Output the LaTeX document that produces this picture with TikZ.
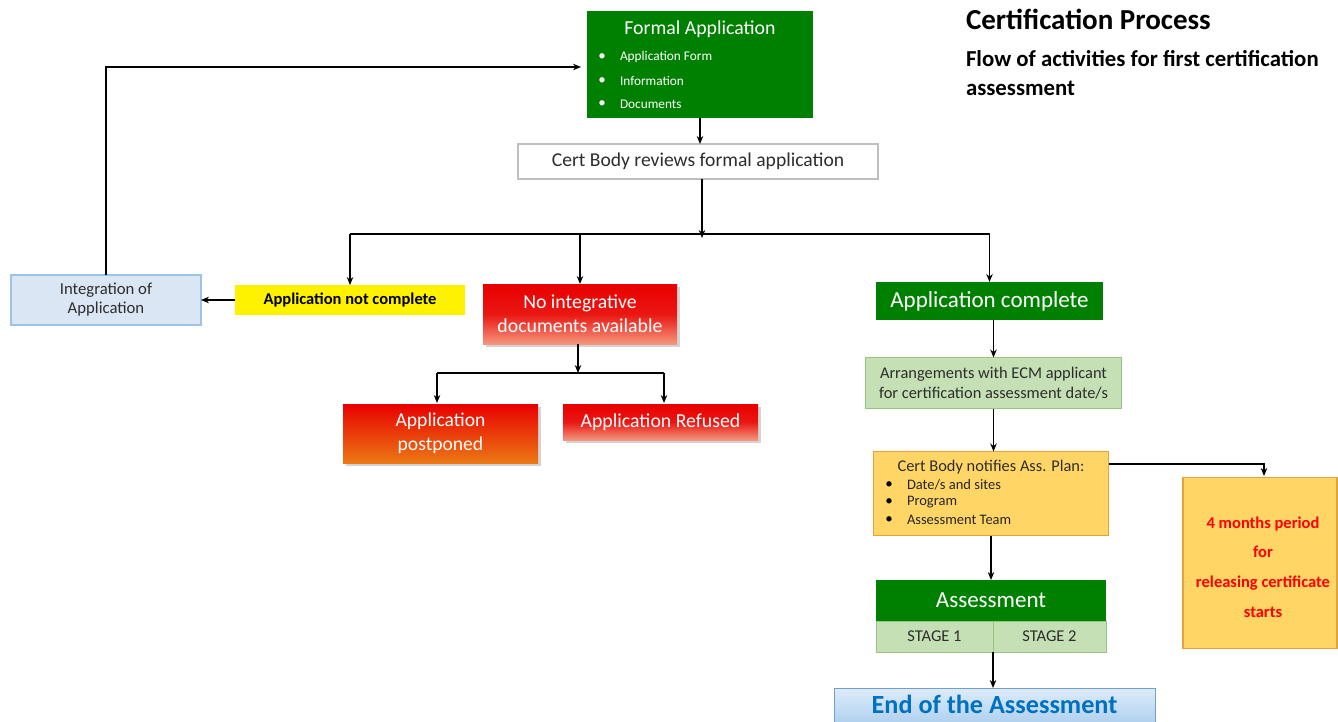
\documentclass[tikz,border=0pt]{standalone}
\usepackage{fontspec}
\setmainfont{Carlito}
\usetikzlibrary{arrows.meta,shadows}
\definecolor{dgreen}{RGB}{0,128,0}
\definecolor{lgreen}{RGB}{197,224,180}
\definecolor{lgreenb}{RGB}{150,196,130}
\definecolor{lblue}{RGB}{218,230,244}
\definecolor{lblueb}{RGB}{157,195,230}
\definecolor{gold}{RGB}{255,214,102}
\definecolor{goldb}{RGB}{230,160,60}
\definecolor{salmon}{RGB}{244,150,125}
\definecolor{bred}{RGB}{232,0,0}
\definecolor{amber}{RGB}{255,192,0}
\definecolor{dorange}{RGB}{236,120,20}
\definecolor{tgray}{RGB}{45,45,45}
\definecolor{endblue}{RGB}{0,112,192}
\definecolor{endtop}{RGB}{222,236,250}
\definecolor{endbot}{RGB}{160,200,235}
\definecolor{endb}{RGB}{110,160,210}
\begin{document}
\begin{tikzpicture}[x=1pt,y=-1pt,
  box/.style={inner sep=0pt, outer sep=0pt, align=center},
  conn/.style={line width=1.2pt, black},
  arr/.style={conn, -{Stealth[length=8pt,width=6.5pt]}},
  shad/.style={drop shadow={opacity=0.35, shadow xshift=3pt, shadow yshift=-3pt}},
  redbox/.style={box, shad, top color=bred, bottom color=salmon, middle color=bred!85!salmon, text=white},
]
\useasboundingbox (0,0) rectangle (1338,722);

% Formal application
\node[box, fill=dgreen, minimum width=226pt, minimum height=107pt] (formal) at (700,64.5) {};
\node[box, text=white, font=\fontsize{19.8}{22}\selectfont] (formalt) at (700,29) {Formal Application};
\foreach \yy/\tt/\nm in {57/{Application Form}/fa, 81/{Information}/fb, 104/{Documents}/fc}{
  \node[box, text=white, font=\fontsize{15}{15}\selectfont] (\nm b) at (602,\yy) {•};
  \node[box, anchor=west, text=white, font=\fontsize{13.3}{15}\selectfont] (\nm t) at (620,\yy) {\tt};
}

% Review
\node[box, fill=white, draw=black!25, line width=2.5pt, minimum width=360pt, minimum height=35pt,
      text=tgray, font=\fontsize{19.6}{22}\selectfont] (review) at (698,161.5) {Cert Body reviews formal application};

% Second row
\node[box, fill=lblue, draw=lblueb, line width=2.5pt, minimum width=190pt, minimum height=50pt,
      text=tgray, font=\fontsize{16.7}{19}\selectfont] (integ) at (106,300) {Integration of\\Application};
\node[box, fill=yellow, minimum width=230pt, minimum height=30pt,
      font=\bfseries\fontsize{16.5}{18}\selectfont] (notc) at (350,300) {Application not complete};
\node[redbox, minimum width=194pt, minimum height=60pt,
      font=\fontsize{19.8}{24}\selectfont] (noint) at (580,314) {No integrative\\documents available};
\node[box, fill=dgreen, minimum width=227pt, minimum height=38pt, text=white,
      font=\fontsize{23}{26}\selectfont] (compl) at (989.5,301) {Application complete};

% Third row
\node[box, shad, top color=bred, middle color=amber, bottom color=dorange, minimum width=195pt, minimum height=59pt,
      text=white, font=\fontsize{19.6}{24}\selectfont] (postp) at (440.5,433.5) {Application\\postponed};
\node[redbox, minimum width=195pt, minimum height=36pt,
      font=\fontsize{19.8}{22}\selectfont] (refus) at (660.5,422) {Application Refused};

% Right column
\node[box, fill=lgreen, draw=lgreenb, line width=1.2pt, minimum width=256pt, minimum height=51pt,
      text=tgray, font=\fontsize{16.4}{19.5}\selectfont] (arrg) at (993.5,383) {Arrangements with ECM applicant\\for certification assessment date/s};
\node[box, fill=gold, draw=goldb, line width=1.2pt, minimum width=235pt, minimum height=84pt] (notif) at (991,493.5) {};
\node[box, text=tgray, font=\fontsize{16.4}{18}\selectfont] (notift) at (991,467) {Cert Body notifies Ass. Plan:};
\foreach \yy/\tt/\nm in {485/{Date/s and sites}/na, 502/{Program}/nb, 520/{Assessment Team}/nc}{
  \node[box, text=black, font=\fontsize{15}{16}\selectfont] (\nm b) at (889,\yy) {•};
  \node[box, anchor=west, text=black!85, font=\fontsize{14.5}{16}\selectfont] (\nm t) at (907,\yy) {\tt};
}
\node[box, fill=gold, draw=goldb, line width=1.2pt, minimum width=154pt, minimum height=171pt] (months) at (1260,563) {};
\node[box, text=red, font=\bfseries\fontsize{16.5}{29.6}\selectfont] (monthst) at (1263,567) {4 months period\\for\\releasing certificate\\starts};

\node[box, fill=dgreen, minimum width=230pt, minimum height=41pt, text=white,
      font=\fontsize{23}{26}\selectfont] (assess) at (991,600.5) {Assessment};
\node[box, fill=lgreen, draw=lgreenb, line width=1pt, minimum width=117pt, minimum height=31pt,
      text=tgray, font=\fontsize{16.5}{18}\selectfont] (st1) at (934.5,636.5) {STAGE 1};
\node[box, fill=lgreen, draw=lgreenb, line width=1pt, minimum width=113pt, minimum height=31pt,
      text=tgray, font=\fontsize{16.5}{18}\selectfont] (st2) at (1049.5,636.5) {STAGE 2};

\node[box, top color=endtop, bottom color=endbot, draw=endb, line width=1pt, minimum width=321pt, minimum height=46pt] (endb) at (994.5,711) {};
\node[box, text=endblue, font=\bfseries\fontsize{26.2}{30}\selectfont] (endt) at (994.5,704) {End of the Assessment};

% Title
\node[box, anchor=west, font=\bfseries\fontsize{29}{32}\selectfont] (title) at (966,19) {Certification Process};
\node[box, anchor=north west, align=left, font=\bfseries\fontsize{22.8}{29}\selectfont] (subt) at (966,50) {Flow of activities for first certification\\assessment};

% Connectors
\coordinate (split) at (702,234);
\coordinate (split2) at (578,373);
\draw[arr] (formal.south) -- (formal.south |- review.north);
\draw[arr] (review.south -| split) -- ([yshift=-4pt]split);
\draw[conn] (notc.north |- split) -- (compl.north |- split);
\draw[arr] (notc.north |- split) -- (notc.north);
\draw[arr] (noint.north |- split) -- (noint.north);
\draw[arr] (compl.north |- split) -- (compl.north);
\draw[arr] (notc.west) -- (integ.east);
\draw[arr] (integ.north) |- ([xshift=-6pt]formal.west |- 0,67);
\draw[arr] (noint.south -| split2) -- (split2);
\draw[conn] (437,373) -- (664,373);
\draw[arr] (437,373) -- (437,403);
\draw[arr] (664,373) -- (664,403);
\draw[arr] (compl.south -| arrg) -- (arrg.north);
\draw[arr] (arrg.south) -- (arrg.south |- notif.north);
\draw[arr] (notif.east |- 0,464) -| (1264,476);
\draw[arr] (notif.south) -- (assess.north);
\draw[arr] (st1.south east) -- (endb.north -| st1.south east);
\end{tikzpicture}
\end{document}
